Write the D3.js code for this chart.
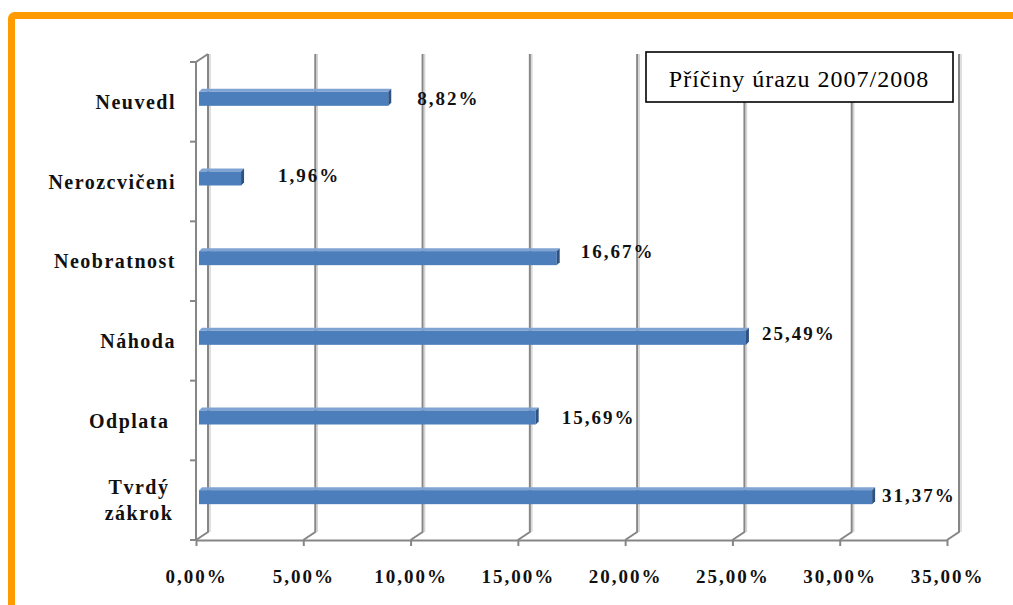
<!DOCTYPE html>
<html>
<head>
<meta charset="utf-8">
<script src="https://cdn.jsdelivr.net/npm/d3@7"></script>
<style>
  html, body { margin: 0; padding: 0; background: #fff; }
  svg { display: block; }
  text { font-family: "Liberation Serif", "DejaVu Serif", serif; }
</style>
</head>
<body>
<div id="chart"></div>
<script>
// Causes of injury, season 2007/2008 (share of all injuries, %)
const categories = ["Neuvedl", "Nerozcvičeni", "Neobratnost", "Náhoda", "Odplata ", "Tvrdý\nzákrok"];
const shares = [8.82, 1.96, 16.67, 25.49, 15.69, 31.37];
const tickValues = [0, 5, 10, 15, 20, 25, 30, 35];
const chartTitle = "Příčiny úrazu 2007/2008";

// hand-placed offsets of the value labels: [dx from bar end, baseline shift]
const labelNudge = [[26, 6], [34, 3], [21, 0], [13, 2], [23, 6], [7, 5]];

const W = 1013, H = 605;
const svg = d3.select("#chart").append("svg").attr("width", W).attr("height", H);

// frame
svg.append("rect")
  .attr("x", 11.5).attr("y", 15.5).attr("width", 1100).attr("height", 700)
  .attr("rx", 3)
  .attr("fill", "#fff").attr("stroke", "#FF9A00").attr("stroke-width", 7);

const x = d3.scaleLinear().domain([0, 35]).range([196, 947]);
const y = d3.scaleBand().domain(categories).range([62, 540]);
const depthX = 12, depthY = -8;
const floorY = 540, topY = 54;
const fmt = v => d3.format(".2f")(v).replace(".", ",") + "%";
const gridColor = "#868686";

// back wall gridlines with the floor bend
const grid = svg.append("g");
grid.selectAll("path.shade").data(tickValues).join("path")
  .attr("class", "shade")
  .attr("d", v => `M${x(v) + depthX + 2},${topY} V${floorY + depthY}`)
  .attr("fill", "none").attr("stroke", "#d4d4d4").attr("stroke-width", 1.5);
grid.selectAll("path.line").data(tickValues).join("path")
  .attr("class", "line")
  .attr("d", v => `M${x(v) + depthX},${topY} V${floorY + depthY} L${x(v)},${floorY}`)
  .attr("fill", "none").attr("stroke", gridColor).attr("stroke-width", 2);

// side wall front edge
svg.append("path")
  .attr("d", `M${x(0)},${floorY} V${y.range()[0]} L${x(0) + depthX},${topY}`)
  .attr("fill", "none").attr("stroke", gridColor).attr("stroke-width", 2);

// category boundary ticks
const bounds = categories.map(c => y(c)).concat([y.range()[1]]);
svg.append("g").selectAll("line").data(bounds).join("line")
  .attr("x1", x(0) - 6).attr("x2", x(0)).attr("y1", d => d).attr("y2", d => d)
  .attr("stroke", gridColor).attr("stroke-width", 2);

// value axis
const xAxis = svg.append("g")
  .attr("transform", `translate(0,${floorY})`)
  .call(d3.axisBottom(x).tickValues(tickValues).tickSize(6).tickSizeOuter(0).tickFormat(fmt));
xAxis.select(".domain").attr("stroke", gridColor).attr("stroke-width", 2);
xAxis.selectAll(".tick line").attr("stroke", gridColor).attr("stroke-width", 2);
xAxis.selectAll(".tick text")
  .attr("y", 43).attr("dy", 0)
  .attr("font-size", 19).attr("font-weight", "bold")
  .attr("letter-spacing", 2).attr("fill", "#111");

// title box
svg.append("rect")
  .attr("x", 646).attr("y", 52).attr("width", 307).attr("height", 50)
  .attr("fill", "#fff").attr("stroke", "#000").attr("stroke-width", 1.6);
svg.append("text")
  .attr("x", 799).attr("y", 87).attr("text-anchor", "middle")
  .attr("font-size", 24).attr("letter-spacing", 1).attr("fill", "#000").text(chartTitle);

// bars (shallow 3D: front face, top face, end cap)
const barH = 14, barD = 3;
const rows = categories.map((c, i) => ({ c, v: shares[i], i }));
const barY = d => y(d.c) + y.bandwidth() / 2 - 3;
const bars = svg.append("g").selectAll("g").data(rows).join("g");
bars.append("path")
  .attr("d", d => {
    const x0 = x(0) + 3, x1 = x(d.v) + 3, t = barY(d) - barH / 2;
    return `M${x0},${t} L${x0 + barD},${t - barD} L${x1 + barD},${t - barD} L${x1},${t} Z`;
  })
  .attr("fill", "#7FA3D2");
bars.append("rect")
  .attr("x", x(0) + 3).attr("y", d => barY(d) - barH / 2)
  .attr("width", d => x(d.v) - x(0)).attr("height", barH)
  .attr("fill", "#4B7EBB");
bars.append("path")
  .attr("d", d => {
    const x1 = x(d.v) + 3, t = barY(d) - barH / 2;
    return `M${x1},${t} L${x1 + barD},${t - barD} L${x1 + barD},${t - barD + barH} L${x1},${t + barH} Z`;
  })
  .attr("fill", "#2E5282");

// value labels
svg.append("g").selectAll("text").data(rows).join("text")
  .attr("x", d => x(d.v) + 6 + labelNudge[d.i][0])
  .attr("y", d => barY(d) + labelNudge[d.i][1])
  .attr("font-size", 19).attr("font-weight", "bold").attr("letter-spacing", 2)
  .attr("fill", "#111")
  .text(d => fmt(d.v));

// category labels
const cat = svg.append("g").selectAll("text").data(rows).join("text")
  .attr("font-size", 20).attr("font-weight", "bold").attr("letter-spacing", 1.5)
  .attr("fill", "#111")
  .style("white-space", "pre");
cat.each(function (d) {
  const lines = d.c.split("\n");
  const cy = y(d.c) + y.bandwidth() / 2;
  const t = d3.select(this);
  if (lines.length === 1) {
    t.attr("x", 176).attr("y", cy + 7).attr("text-anchor", "end").text(d.c);
  } else {
    t.attr("text-anchor", "middle");
    lines.forEach((ln, k) => {
      t.append("tspan").attr("x", 139)
        .attr("y", cy + 7 + (k - (lines.length - 1) / 2) * 26)
        .text(ln);
    });
  }
});
</script>
</body>
</html>
